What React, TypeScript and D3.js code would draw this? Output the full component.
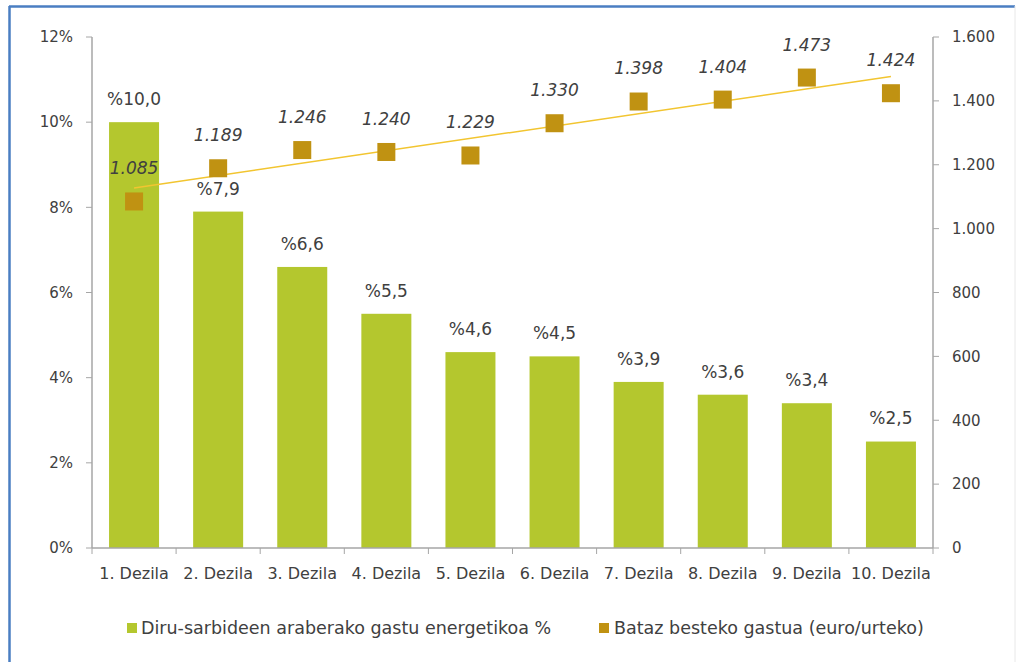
import React from "react";
import * as d3 from "d3";

const categories = ["1. Dezila", "2. Dezila", "3. Dezila", "4. Dezila", "5. Dezila", "6. Dezila", "7. Dezila", "8. Dezila", "9. Dezila", "10. Dezila"];
const sharePct = [10.0, 7.9, 6.6, 5.5, 4.6, 4.5, 3.9, 3.6, 3.4, 2.5];
const spending = [1085, 1189, 1246, 1240, 1229, 1330, 1398, 1404, 1473, 1424];
const leftTicks = [0, 2, 4, 6, 8, 10, 12];
const rightTicks = [0, 200, 400, 600, 800, 1000, 1200, 1400, 1600];
const legendLabels = ["Diru-sarbideen araberako gastu energetikoa %", "Bataz besteko gastua (euro/urteko)"];

const W = 1021, H = 662;
const left = 92, right = 933, top = 37, bottom = 548;
const barColor = "#B4C72E";
const markColor = "#C09212";
const trendColor = "#F2C530";
const axisColor = "#A6A6A6";
const textColor = "#404040";
const font = "'DejaVu Sans', 'Open Sans', sans-serif";

const fmtThousands = (v: number) => {
  const s = String(Math.round(v));
  return s.replace(/\B(?=(\d{3})+(?!\d))/g, ".");
};

export default function App() {
  const xOuter = d3.scaleBand<string>().domain(categories).range([left, right]);
  const yL = d3.scaleLinear().domain([0, 12]).range([bottom, top]);
  const yR = d3.scaleLinear().domain([0, 1600]).range([bottom, top]);
  const cx = (c: string) => (xOuter(c) as number) + xOuter.bandwidth() / 2;

  // linear trend line (least squares) on series 2
  const n = spending.length;
  const xs = spending.map((_, i) => i + 1);
  const mx = d3.mean(xs) as number;
  const my = d3.mean(spending) as number;
  const sxy = d3.sum(xs.map((xi, i) => (xi - mx) * (spending[i] - my)));
  const sxx = d3.sum(xs.map((xi) => (xi - mx) ** 2));
  const slope = sxy / sxx;
  const icpt = my - slope * mx;
  const trendY = (i: number) => yR(icpt + slope * (i + 1));

  const mk = 18;
  const bw = 50;

  return (
    <svg width={W} height={H} style={{ position: "absolute", left: 0, top: 0, background: "#fff" }} fontFamily={font}>
      <rect x={0} y={0} width={W} height={H} fill="#fff" />
      <line x1={9.5} y1={6} x2={9.5} y2={H} stroke="#4A7EC2" strokeWidth={2.5} />
      <line x1={9} y1={6.5} x2={1015} y2={6.5} stroke="#4A7EC2" strokeWidth={2.5} />
      <line x1={1015} y1={6} x2={1015} y2={H} stroke="#E8E8E8" strokeWidth={1} />

      {/* bars */}
      {categories.map((c, i) => (
        <rect key={c} x={cx(c) - bw / 2} y={yL(sharePct[i])} width={bw} height={bottom - yL(sharePct[i])} fill={barColor} />
      ))}

      {/* axes */}
      <line x1={left} y1={top} x2={left} y2={bottom} stroke={axisColor} strokeWidth={1.5} />
      <line x1={right} y1={top} x2={right} y2={bottom} stroke={axisColor} strokeWidth={1.5} />
      <line x1={left} y1={bottom} x2={right} y2={bottom} stroke={axisColor} strokeWidth={1.5} />
      {leftTicks.map((t) => (
        <g key={"l" + t}>
          <line x1={left - 6} x2={left} y1={yL(t)} y2={yL(t)} stroke={axisColor} />
          <text x={left - 19} y={yL(t)} dy="0.35em" textAnchor="end" fontSize={15} fill={textColor}>{t + "%"}</text>
        </g>
      ))}
      {rightTicks.map((t) => (
        <g key={"r" + t}>
          <line x1={right} x2={right + 6} y1={yR(t)} y2={yR(t)} stroke={axisColor} />
          <text x={right + 19} y={yR(t)} dy="0.35em" textAnchor="start" fontSize={15} fill={textColor}>{fmtThousands(t)}</text>
        </g>
      ))}
      {categories.map((c) => (
        <line key={"ct" + c} x1={xOuter(c) as number} x2={xOuter(c) as number} y1={bottom} y2={bottom + 6} stroke={axisColor} />
      ))}
      <line x1={right} x2={right} y1={bottom} y2={bottom + 6} stroke={axisColor} />
      {categories.map((c) => (
        <text key={"cl" + c} x={cx(c)} y={579} textAnchor="middle" fontSize={16} fill={textColor}>{c}</text>
      ))}

      {/* trend line */}
      <line x1={cx(categories[0])} y1={trendY(0)} x2={cx(categories[n - 1])} y2={trendY(n - 1)} stroke={trendColor} strokeWidth={1.5} />

      {/* markers */}
      {categories.map((c, i) => (
        <rect key={"m" + c} x={cx(c) - mk / 2} y={yR(spending[i]) - mk / 2} width={mk} height={mk} fill={markColor} />
      ))}

      {/* bar labels */}
      {categories.map((c, i) => (
        <text key={"bl" + c} x={cx(c)} y={yL(sharePct[i]) - 23} dy="0.35em" textAnchor="middle" fontSize={17} fill={textColor}>
          {"%" + sharePct[i].toFixed(1).replace(".", ",")}
        </text>
      ))}
      {/* point labels */}
      {categories.map((c, i) => (
        <text key={"pl" + c} x={cx(c)} y={yR(spending[i]) - 33} dy="0.35em" textAnchor="middle" fontSize={17} fontStyle="italic" fill={textColor}>
          {fmtThousands(spending[i])}
        </text>
      ))}

      {/* legend */}
      <rect x={127} y={623} width={10} height={10} fill={barColor} />
      <text x={141} y={628} dy="0.35em" fontSize={17.5} fill={textColor}>{legendLabels[0]}</text>
      <rect x={599} y={623} width={10} height={10} fill={markColor} />
      <text x={614} y={628} dy="0.35em" fontSize={17.5} fill={textColor}>{legendLabels[1]}</text>
    </svg>
  );
}
